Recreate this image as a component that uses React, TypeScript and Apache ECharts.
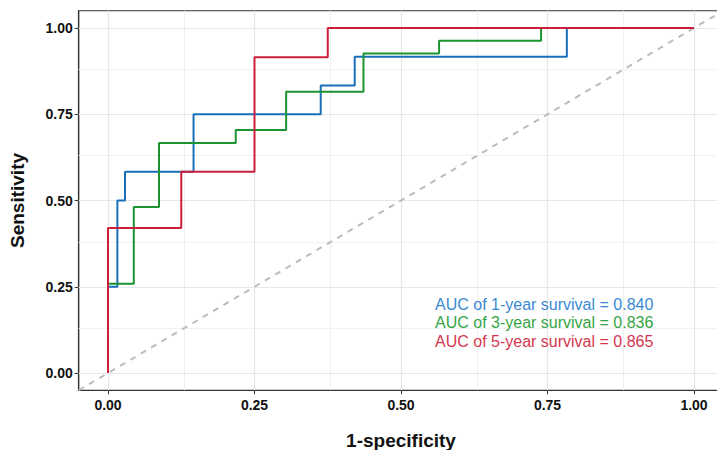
import React, { useEffect, useRef } from "react";
import * as echarts from "echarts";

// 1-year ROC corners
const fpr1 = [0, 0, 0.016, 0.016, 0.029, 0.029, 0.146, 0.146, 0.363, 0.363, 0.421, 0.421, 0.783, 0.783, 1];
const tpr1 = [0, 0.25, 0.25, 0.5, 0.5, 0.583, 0.583, 0.75, 0.75, 0.833, 0.833, 0.917, 0.917, 1, 1];
// 3-year ROC corners
const fpr3 = [0, 0, 0.044, 0.044, 0.087, 0.087, 0.218, 0.218, 0.304, 0.304, 0.436, 0.436, 0.565, 0.565, 0.739, 0.739, 1];
const tpr3 = [0, 0.259, 0.259, 0.481, 0.481, 0.667, 0.667, 0.704, 0.704, 0.815, 0.815, 0.926, 0.926, 0.963, 0.963, 1, 1];
// 5-year ROC corners
const fpr5 = [0, 0, 0.125, 0.125, 0.25, 0.25, 0.375, 0.375, 1];
const tpr5 = [0, 0.42, 0.42, 0.583, 0.583, 0.915, 0.915, 1, 1];

const majorTicks = [0, 0.25, 0.5, 0.75, 1];
const minorTicks = [0.125, 0.375, 0.625, 0.875];
const diagonal = [-0.05, 1.05];

const legendTexts = [
  "AUC of 1-year survival = 0.840",
  "AUC of 3-year survival = 0.836",
  "AUC of 5-year survival = 0.865",
];
const colors = ["#1a6fba", "#1b9430", "#cc1f3c"];
const textColors = ["#3a89d0", "#35a545", "#d5384f"];

const FONT = "Liberation Sans, Arial, sans-serif";

export default function App() {
  const ref = useRef<HTMLDivElement>(null);
  useEffect(() => {
    if (!ref.current) return;
    const chart = echarts.init(ref.current, null, { renderer: "svg" });
    const zip = (xs: number[], ys: number[]) => xs.map((x, i) => [x, ys[i]]);
    const major = { color: "#e6e6e6", width: 1.2, type: "solid" as const };
    const minor = { color: "#f1f1f1", width: 1, type: "solid" as const };
    const gridLines = [
      ...minorTicks.map((v) => ({ xAxis: v, lineStyle: minor })),
      ...minorTicks.map((v) => ({ yAxis: v, lineStyle: minor })),
      ...majorTicks.map((v) => ({ xAxis: v, lineStyle: major })),
      ...majorTicks.map((v) => ({ yAxis: v, lineStyle: major })),
    ];
    const axisCommon = {
      type: "value" as const,
      min: -0.05,
      max: 1.05,
      splitLine: { show: false },
      axisLine: { show: true, onZero: false, lineStyle: { color: "#333", width: 1.2 } },
      axisTick: { show: true, length: 4, customValues: majorTicks, lineStyle: { color: "#333", width: 1 } },
      axisLabel: {
        customValues: majorTicks,
        formatter: (v: number) => v.toFixed(2),
        fontWeight: "bold" as const,
        fontSize: 14,
        color: "#111",
        fontFamily: FONT,
      },
      nameLocation: "middle" as const,
      nameTextStyle: { fontWeight: "bold" as const, fontSize: 19, color: "#111", fontFamily: FONT },
    };
    chart.setOption({
      animation: false,
      grid: {
        left: 78.7,
        right: 0.7,
        top: 10.75,
        bottom: 59.75,
        outerBoundsMode: "none",
        containLabel: false,
        show: true,
        borderColor: "#333",
        borderWidth: 1.2,
        backgroundColor: "#fff",
      },
      xAxis: {
        ...axisCommon,
        name: "1-specificity",
        nameGap: 41,
        axisLabel: { ...axisCommon.axisLabel, margin: 8 },
      },
      yAxis: {
        ...axisCommon,
        name: "Sensitivity",
        nameGap: 52,
        axisLabel: { ...axisCommon.axisLabel, margin: 6 },
      },
      series: [
        {
          type: "line",
          z: 1,
          data: [],
          silent: true,
          markLine: { z: 1, silent: true, symbol: "none", label: { show: false }, data: gridLines, animation: false },
        },
        {
          type: "line",
          z: 2,
          data: diagonal.map((v) => [v, v]),
          symbol: "none",
          silent: true,
          lineStyle: { color: "#bcbcbc", width: 2, type: [6, 6] },
        },
        {
          type: "line",
          z: 3,
          data: zip(fpr1, tpr1),
          symbol: "none",
          lineStyle: { color: colors[0], width: 2 },
        },
        {
          type: "line",
          z: 4,
          data: zip(fpr3, tpr3),
          symbol: "none",
          lineStyle: { color: colors[1], width: 2 },
        },
        {
          type: "line",
          z: 5,
          data: zip(fpr5, tpr5),
          symbol: "none",
          lineStyle: { color: colors[2], width: 2 },
        },
      ],
      graphic: legendTexts.map((t, i) => ({
        type: "text",
        left: 435,
        top: 296 + i * 18.5,
        z: 10,
        style: { text: t, fill: textColors[i], fontSize: 16, fontFamily: FONT },
      })),
    });
    return () => chart.dispose();
  }, []);
  return (
    <div style={{ position: "absolute", left: 0, top: 0, width: 717, height: 450, overflow: "hidden", background: "#fff" }}>
      <div ref={ref} style={{ width: 724, height: 450 }} />
    </div>
  );
}
